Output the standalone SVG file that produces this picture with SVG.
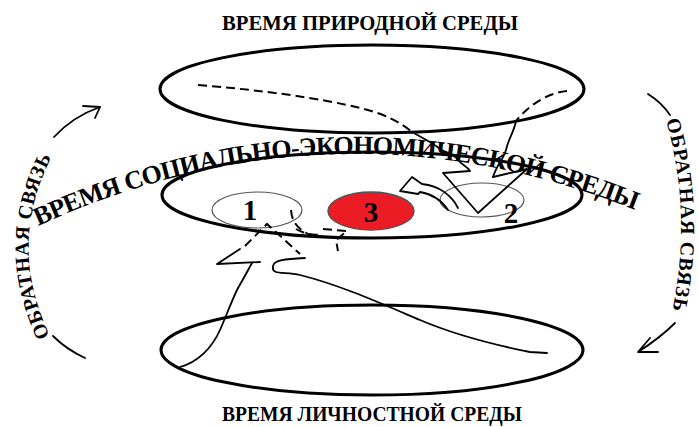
<svg xmlns="http://www.w3.org/2000/svg" width="699" height="427" viewBox="0 0 699 427">
<defs>
<style>
.t{font-family:"Liberation Serif","Times New Roman",serif;font-weight:bold;fill:#000}
.big{fill:none;stroke:#000;stroke-width:3}
.small{fill:none;stroke:#555;stroke-width:1.2}
.ln{fill:none;stroke:#000;stroke-width:1.8;stroke-linecap:round;stroke-linejoin:round}
.dash{fill:none;stroke:#000;stroke-width:2;stroke-dasharray:9 5}
.num{font-family:"Liberation Serif","Times New Roman",serif;font-weight:bold;font-size:29px;text-anchor:middle}
</style>
<filter id="soft" x="-5%" y="-10%" width="110%" height="120%"><feGaussianBlur stdDeviation="0.6"/></filter>
<path id="arcMid" d="M38,226 Q345,86 655,218"/>
<path id="arcL" d="M50,336 Q4,240 57,147"/>
<path id="arcR" d="M666,120 Q694,220 670,320"/>
</defs>
<rect width="699" height="427" fill="#fff"/>

<g id="title-top"><text class="t" x="370" y="30" font-size="20" text-anchor="middle" textLength="296" lengthAdjust="spacingAndGlyphs">ВРЕМЯ ПРИРОДНОЙ СРЕДЫ</text></g>
<g id="title-bottom"><text class="t" x="372" y="421" font-size="20" text-anchor="middle" textLength="300" lengthAdjust="spacingAndGlyphs">ВРЕМЯ ЛИЧНОСТНОЙ СРЕДЫ</text></g>

<g id="env-nature"><ellipse class="big" cx="372" cy="89" rx="212" ry="44" filter="url(#soft)"/></g>
<g id="env-social"><ellipse class="big" cx="372" cy="195" rx="210" ry="43" filter="url(#soft)"/></g>
<g id="env-personal"><ellipse class="big" cx="372" cy="350" rx="211" ry="45" filter="url(#soft)"/></g>

<g id="label-social"><text class="t" font-size="26"><textPath href="#arcMid" textLength="615" lengthAdjust="spacing">ВРЕМЯ СОЦИАЛЬНО-ЭКОНОМИЧЕСКОЙ СРЕДЫ</textPath></text></g>

<g id="node1"><ellipse class="small" cx="257" cy="210" rx="45" ry="18"/><text class="num" x="250" y="220">1</text></g>
<g id="node3"><ellipse cx="371" cy="211" rx="43" ry="19" fill="#ec1c24" stroke="#555" stroke-width="1.5"/><text class="num" x="371" y="222">3</text></g>
<g id="node2"><ellipse class="small" cx="482" cy="200" rx="42" ry="17"/><text class="num" x="511" y="223">2</text></g>

<g id="feedback-left">
<text class="t" font-size="20"><textPath href="#arcL" textLength="186" lengthAdjust="spacing">ОБРАТНАЯ СВЯЗЬ</textPath></text>
<path class="ln" d="M54,137 C66,124 80,114 100,107 M83,106 L100,107 L95,118"/>
<path class="ln" d="M53,336 C62,345 72,352 85,358"/>
</g>
<g id="feedback-right">
<text class="t" font-size="20"><textPath href="#arcR" textLength="192" lengthAdjust="spacing">ОБРАТНАЯ СВЯЗЬ</textPath></text>
<path class="ln" d="M648,94 C656,99 664,106 670,115"/>
<path class="ln" d="M675,323 C665,333 652,343 638,352 M658,352 L638,352 L650,338"/>
</g>

<g id="connectors">
<path class="dash" d="M198,85 C260,90 320,98 360,108 C385,114 400,122 412,132"/>
<path class="ln" d="M412,132 C422,138 432,142 440,149 C447,154 452,152 458,160 C463,166 467,166 470,171 L443,173 L478,213 L527,169 L493,177"/>
<path class="dash" d="M567,91 C548,93 530,104 516,121"/>
<path class="ln" d="M516,121 C514,132 508,140 506,150 C503,160 497,164 493,177"/>
<path class="ln" d="M458,208 C452,196 440,186 422,184 L412,177 L400,191 L418,194 L420,192 C432,194 442,201 448,210"/>
<path class="ln" d="M180,367 C198,362 212,348 220,330 C227,314 232,300 238,288 C244,278 248,270 252,263"/>
<path class="ln" d="M260,262 L217,264 L240,249"/>
<path class="dash" d="M245,246 L267,224 L300,254"/>
<path class="ln" d="M547,353 L530,352 C500,346 460,337 420,320 C380,303 340,285 300,275 C285,271 271,276 273,266 C274,260 285,259 305,258"/>
<path class="dash" d="M291,210 C292,224 300,232 318,238"/>
<path class="dash" d="M296,229 C305,234 313,236 323,234"/>
<path class="dash" d="M323,229 L347,231 L336,240 L338,251"/>
</g>
</svg>
